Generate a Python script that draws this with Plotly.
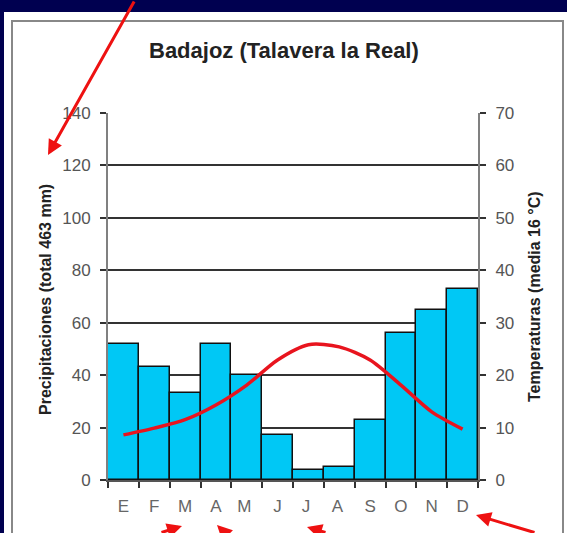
import plotly.graph_objects as go

months = ["E", "F", "M", "A", "M ", "J", "J ", "A ", "S", "O", "N", "D"]
precip = [52, 43, 33, 52, 40, 17, 4, 5, 23, 56, 65, 73]
temp = [8.6, 9.9, 11.5, 14.3, 18.1, 22.9, 25.8, 25.4, 22.9, 18.1, 13.0, 9.7]
left_ticks = [0, 20, 40, 60, 80, 100, 120, 140]
right_ticks = [0, 10, 20, 30, 40, 50, 60, 70]

W, H = 567, 533
L, R, T, B = 108, 478, 113, 480

def px(x):
    return (x - L) / (R - L)

def py(y):
    return (B - y) / (B - T)

FONT = "Liberation Sans, Arial, sans-serif"

fig = go.Figure()
fig.add_trace(go.Bar(
    x=months, y=precip, yaxis="y",
    marker=dict(color="#00C8F5", line=dict(color="#111111", width=1.5)),
    showlegend=False,
))
fig.add_trace(go.Scatter(
    x=months, y=temp, yaxis="y2", mode="lines",
    line=dict(color="#E8141E", width=3.5, shape="spline", smoothing=0.8),
    showlegend=False,
))

shapes = [
    dict(type="rect", xref="paper", yref="paper", x0=px(4), x1=px(600), y0=py(12), y1=py(600),
         fillcolor="white", line=dict(width=0), layer="below"),
    dict(type="rect", xref="paper", yref="paper", x0=px(12), x1=px(563), y0=py(21), y1=py(600),
         fillcolor="rgba(0,0,0,0)", line=dict(color="#888888", width=2), layer="below"),
]

arrow_specs = [
    ((48, 155), (87, -170)),
    ((182, 526), (-22, 14)),
    ((217, 525), (8, 16)),
    ((307, 527), (20, 14)),
    ((476, 515), (60, 34)),
]
annotations = [
    dict(text="<b>Badajoz (Talavera la Real)</b>", xref="paper", yref="paper",
         x=px(284), y=py(50), showarrow=False, xanchor="center", yanchor="middle",
         font=dict(family=FONT, size=22, color="#222222")),
    dict(text="<b>Precipitaciones (total 463 mm)</b>", xref="paper", yref="paper",
         x=px(45), y=py(300), showarrow=False, textangle=-90,
         xanchor="center", yanchor="middle",
         font=dict(family=FONT, size=16, color="#222222")),
    dict(text="<b>Temperaturas (media 16 °C)</b>", xref="paper", yref="paper",
         x=px(534), y=py(297), showarrow=False, textangle=-90,
         xanchor="center", yanchor="middle",
         font=dict(family=FONT, size=16, color="#222222")),
]
for (hx, hy), (ax, ay) in arrow_specs:
    annotations.append(dict(
        xref="paper", yref="paper", x=px(hx), y=py(hy), ax=ax, ay=ay,
        text="", showarrow=True, arrowhead=2, arrowsize=1, arrowwidth=3,
        arrowcolor="#EE1111",
    ))

fig.update_layout(
    width=W, height=H,
    margin=dict(l=L, r=W - R, t=T, b=H - B),
    paper_bgcolor="#000050",
    plot_bgcolor="#FCFCCC",
    bargap=0,
    shapes=shapes,
    annotations=annotations,
    font=dict(family=FONT, color="#444444"),
    xaxis=dict(
        type="category", tickson="boundaries", ticks="outside", ticklen=6,
        tickcolor="#333333", tickwidth=1.5, showgrid=False,
        showline=True, linecolor="#555555", linewidth=1.5,
        tickfont=dict(size=17, color="#666666"), ticklabelstandoff=10,
    ),
    yaxis=dict(
        range=[0, 140], tickvals=left_ticks, ticks="outside", ticklen=6,
        tickcolor="#333333", tickwidth=1.5,
        showgrid=True, gridcolor="#333333", gridwidth=1.5,
        showline=True, linecolor="#808080", linewidth=2,
        zeroline=False, ticklabelstandoff=6,
        tickfont=dict(size=17, color="#555555"),
    ),
    yaxis2=dict(
        range=[0, 70], tickvals=right_ticks, overlaying="y", side="right",
        ticks="outside", ticklen=6, tickcolor="#333333", tickwidth=1.5,
        showgrid=False, showline=True, linecolor="#808080", linewidth=2,
        zeroline=False, ticklabelstandoff=6,
        tickfont=dict(size=17, color="#555555"),
    ),
)

fig.write_html("out.html", config={"displayModeBar": False},
               post_script="document.body.style.margin='0px';")
